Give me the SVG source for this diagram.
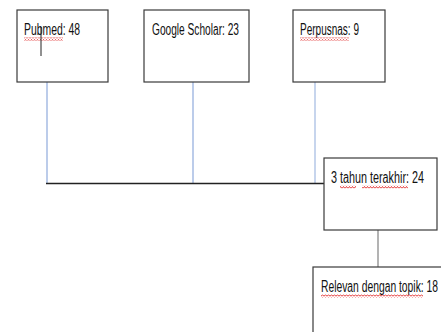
<svg xmlns="http://www.w3.org/2000/svg" width="441" height="332" viewBox="0 0 441 332">
<defs>
<style>
.box{fill:#fff;stroke:#3a3a3a;stroke-width:1.2}
.t{font-family:"Liberation Sans",Arial,sans-serif;font-size:16px;fill:#111}
.blue{stroke:#8faadc;stroke-width:1.2;fill:none}
.sq{stroke:#e02020;stroke-width:0.9;fill:none}
</style>
<pattern id="wave" width="3" height="3" patternUnits="userSpaceOnUse">
<path d="M0,2.5 L1.5,0.5 L3,2.5" class="sq"/>
</pattern>
</defs>
<rect width="441" height="332" fill="#fff"/>
<g id="connectors">
<line x1="47" y1="82" x2="47" y2="183.5" class="blue"/>
<line x1="193" y1="82" x2="193" y2="183.5" class="blue"/>
<line x1="315" y1="82" x2="315" y2="183" stroke="#b4c7e7" stroke-width="1.5"/>
<line x1="46" y1="183.5" x2="324" y2="183.5" stroke="#222" stroke-width="1.3"/>
<line x1="378" y1="230" x2="378" y2="268" stroke="#808080" stroke-width="1.2"/>
</g>
<g id="pubmed">
<rect x="17" y="10" width="91" height="72" class="box"/>
<text x="24" y="35" class="t" textLength="56" lengthAdjust="spacingAndGlyphs">Pubmed: 48</text>
<rect x="24" y="37.5" width="39" height="3" fill="url(#wave)"/>
<line x1="41" y1="27" x2="41" y2="56" stroke="#222" stroke-width="1"/>
</g>
<g id="scholar">
<rect x="144" y="10" width="105" height="72" class="box"/>
<text x="152" y="35" class="t" textLength="87" lengthAdjust="spacingAndGlyphs">Google Scholar: 23</text>
</g>
<g id="perpusnas">
<rect x="293" y="10" width="92" height="72" class="box"/>
<text x="300" y="35" class="t" textLength="59" lengthAdjust="spacingAndGlyphs">Perpusnas: 9</text>
<rect x="300" y="37.5" width="49" height="3" fill="url(#wave)"/>
</g>
<g id="tahun">
<rect x="324" y="158" width="113" height="72" class="box"/>
<text x="331" y="183" class="t" textLength="93" lengthAdjust="spacingAndGlyphs">3 tahun terakhir: 24</text>
<rect x="340" y="185.5" width="16" height="3" fill="url(#wave)"/>
<rect x="362" y="185.5" width="46" height="3" fill="url(#wave)"/>
</g>
<g id="relevan">
<rect x="313" y="267" width="140" height="80" class="box"/>
<text x="321" y="292" class="t" textLength="117" lengthAdjust="spacingAndGlyphs">Relevan dengan topik: 18</text>
<rect x="321" y="294.5" width="102" height="3" fill="url(#wave)"/>
</g>
</svg>
